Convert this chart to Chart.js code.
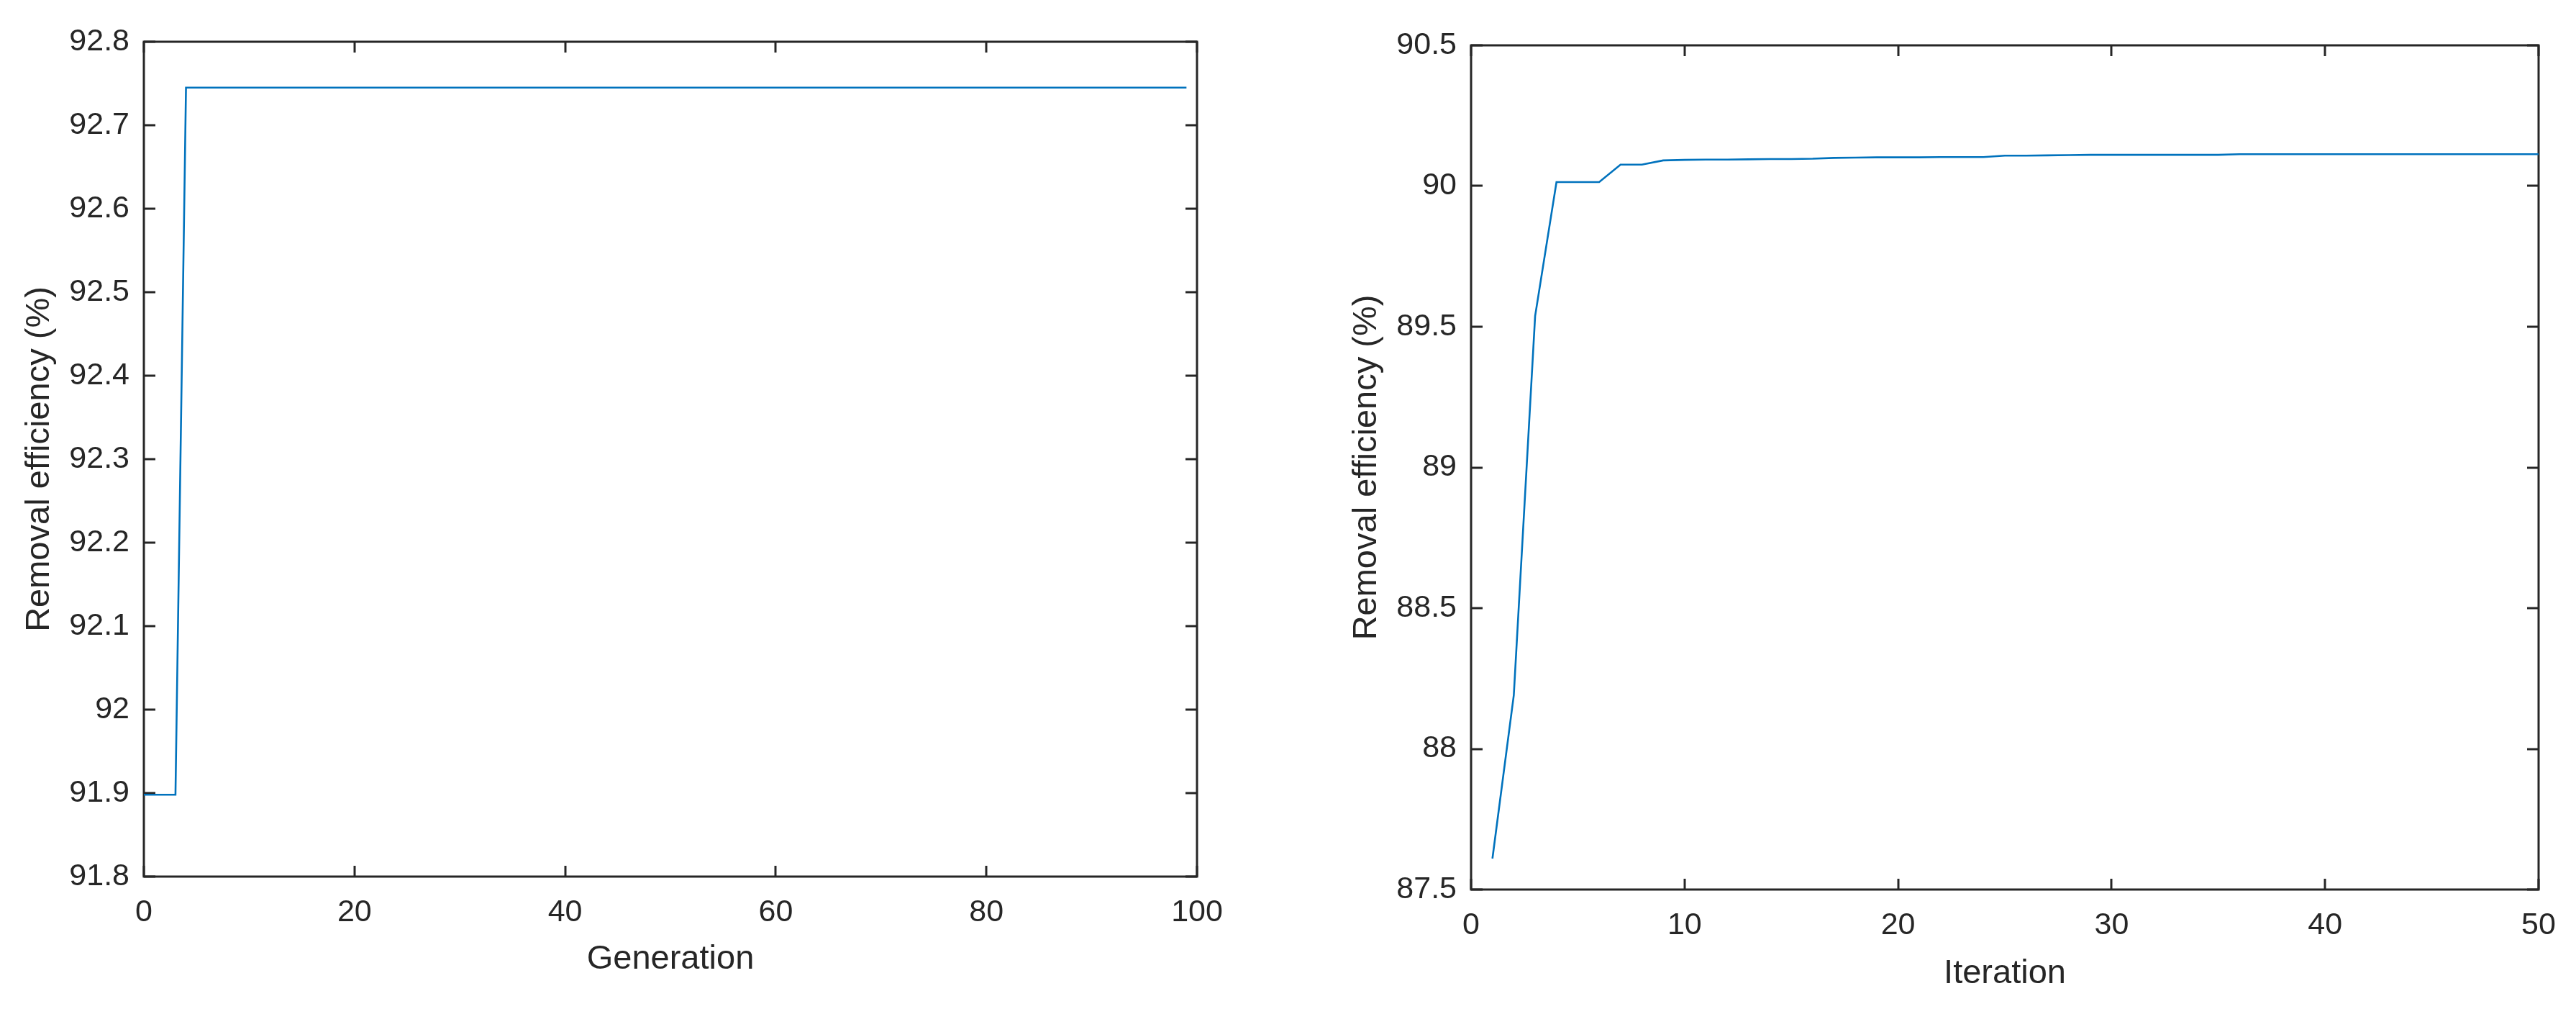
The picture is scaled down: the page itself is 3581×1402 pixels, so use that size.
<!DOCTYPE html>
<html>
<head>
<meta charset="utf-8">
<title>Removal efficiency</title>
<script src="https://cdn.jsdelivr.net/npm/chart.js"></script>
<style>
  html, body { margin: 0; padding: 0; background: #ffffff; }
  #contenedor { position: relative; width: 3581px; height: 1402px; overflow: hidden; }
  canvas { position: absolute; top: 0; }
  #graficoGA { left: 0; }
  #graficoIter { left: 1790px; }
</style>
</head>
<body>
<div id="contenedor">
  <canvas id="graficoGA" width="1790" height="1402"></canvas>
  <canvas id="graficoIter" width="1791" height="1402"></canvas>
</div>
<script>
// Datos de la figura izquierda (vertices de la curva por generacion)
const generacion = [0, 3, 4, 99];
const eficienciaGA = [91.898, 91.898, 92.745, 92.745];
const ticksXIzq = [0, 20, 40, 60, 80, 100];
const ticksYIzq = [91.8, 91.9, 92, 92.1, 92.2, 92.3, 92.4, 92.5, 92.6, 92.7, 92.8];

// Datos de la figura derecha (una eficiencia por iteracion)
const iteracion = [1, 2, 3, 4, 5, 6, 7, 8, 9, 10,
  11, 12, 13, 14, 15, 16, 17, 18, 19, 20,
  21, 22, 23, 24, 25, 26, 27, 28, 29, 30,
  31, 32, 33, 34, 35, 36, 37, 38, 39, 40,
  41, 42, 43, 44, 45, 46, 47, 48, 49, 50];
const eficienciaIter = [87.61, 88.19, 89.538, 90.014, 90.014, 90.014, 90.076, 90.076, 90.091, 90.093,
  90.094, 90.094, 90.095, 90.096, 90.096, 90.097, 90.1, 90.101, 90.102, 90.102,
  90.102, 90.103, 90.103, 90.103, 90.108, 90.108, 90.109, 90.11, 90.111, 90.111,
  90.111, 90.111, 90.111, 90.111, 90.111, 90.113, 90.113, 90.113, 90.113, 90.113,
  90.113, 90.113, 90.113, 90.113, 90.113, 90.113, 90.113, 90.113, 90.113, 90.113];
const ticksXDer = [0, 10, 20, 30, 40, 50];
const ticksYDer = [87.5, 88, 88.5, 89, 89.5, 90, 90.5];

const colorEjes = '#262626';
const colorLinea = '#0072BD';
const fuente = "'Liberation Sans', Arial, Helvetica, sans-serif";

// Caja estilo MATLAB: marco completo y marcas hacia dentro en los cuatro lados
const cajaMatlab = {
  id: 'cajaMatlab',
  beforeDatasetsDraw(chart) {
    const { ctx, chartArea: a, scales: { x, y } } = chart;
    const linea = (x1, y1, x2, y2) => {
      ctx.beginPath();
      ctx.moveTo(x1, y1);
      ctx.lineTo(x2, y2);
      ctx.stroke();
    };
    ctx.save();
    ctx.strokeStyle = colorEjes;
    ctx.lineWidth = 3;
    ctx.lineCap = 'butt';
    x.ticks.forEach(t => {
      const px = Math.round(x.getPixelForValue(t.value));
      linea(px, a.bottom, px, a.bottom - 15);
      linea(px, a.top, px, a.top + 15);
    });
    y.ticks.forEach(t => {
      const py = Math.round(y.getPixelForValue(t.value));
      linea(a.left, py, a.left + 16, py);
      linea(a.right, py, a.right - 16, py);
    });
    ctx.strokeRect(a.left, a.top, a.right - a.left, a.bottom - a.top);
    ctx.restore();
  }
};

const crearGrafico = (idCanvas, xs, ys, cfg) => {
  return new Chart(document.getElementById(idCanvas), {
    type: 'line',
    data: {
      datasets: [{
        data: xs.map((v, i) => ({ x: v, y: ys[i] })),
        borderColor: colorLinea,
        borderWidth: 2.6,
        pointRadius: 0,
        tension: 0,
        fill: false
      }]
    },
    options: {
      responsive: false,
      animation: false,
      devicePixelRatio: 1,
      layout: { padding: cfg.padding },
      plugins: { legend: { display: false }, tooltip: { enabled: false } },
      scales: {
        x: {
          type: 'linear',
          min: cfg.xMin,
          max: cfg.xMax,
          grid: { display: false, drawTicks: false },
          border: { display: false },
          afterBuildTicks: s => { s.ticks = cfg.ticksX.map(v => ({ value: v })); },
          afterFit: s => { s.height = cfg.altoX; },
          ticks: {
            padding: 24,
            maxRotation: 0,
            color: colorEjes,
            font: { family: fuente, size: 43 },
            callback: v => String(v)
          },
          title: {
            display: true,
            text: cfg.tituloX,
            color: colorEjes,
            font: { family: fuente, size: 47 },
            padding: { top: 0, bottom: cfg.padTituloX }
          }
        },
        y: {
          type: 'linear',
          min: cfg.yMin,
          max: cfg.yMax,
          grid: { display: false, drawTicks: false },
          border: { display: false },
          afterBuildTicks: s => { s.ticks = cfg.ticksY.map(v => ({ value: v })); },
          afterFit: s => { s.width = cfg.anchoY; },
          ticks: {
            padding: 20,
            color: colorEjes,
            font: { family: fuente, size: 43 },
            callback: v => String(parseFloat(v.toFixed(2)))
          },
          title: {
            display: true,
            text: 'Removal efficiency (%)',
            color: colorEjes,
            font: { family: fuente, size: 47 },
            padding: { top: cfg.padTituloY, bottom: 0 }
          }
        }
      }
    },
    plugins: [cajaMatlab]
  });
};

crearGrafico('graficoGA', generacion, eficienciaGA, {
  padding: { left: 0, top: 58, right: 126, bottom: 0 },
  xMin: 0, xMax: 100, yMin: 91.8, yMax: 92.8,
  ticksX: ticksXIzq, ticksY: ticksYIzq,
  altoX: 184, anchoY: 200,
  tituloX: 'Generation', padTituloX: 41, padTituloY: 27
});

crearGrafico('graficoIter', iteracion, eficienciaIter, {
  padding: { left: 0, top: 63, right: 52, bottom: 0 },
  xMin: 0, xMax: 50, yMin: 87.5, yMax: 90.5,
  ticksX: ticksXDer, ticksY: ticksYDer,
  altoX: 166, anchoY: 255,
  tituloX: 'Iteration', padTituloX: 21, padTituloY: 82
});
</script>
</body>
</html>
